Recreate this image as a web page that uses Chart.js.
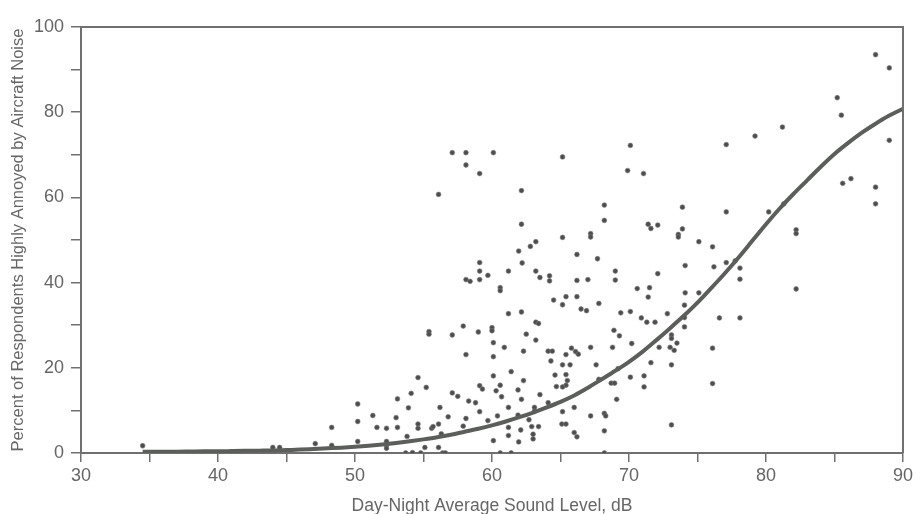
<!DOCTYPE html>
<html>
<head>
<meta charset="utf-8">
<script src="https://cdn.jsdelivr.net/npm/chart.js@4.4.1/dist/chart.umd.min.js"></script>
<style>
  html, body { margin: 0; padding: 0; background: #ffffff; }
  #wrap { width: 916px; height: 514px; position: relative; }
</style>
</head>
<body>
<div id="wrap"><canvas id="c" width="916" height="514"></canvas></div>
<script>
// Survey points: Day-Night Average Sound Level (dB) and % highly annoyed
const surveyLdn = [
  34.5, 44.0, 44.5,
  57.1, 58.1, 60.1, 58.1, 59.1, 56.1, 59.1, 59.1, 59.7, 58.1, 58.4, 59.1,
  65.15, 70.1, 69.9, 71.06, 62.15, 68.2, 68.2, 73.9, 62.15, 71.4, 71.6, 72.1, 73.9, 73.6, 73.6,
  67.2, 67.2, 65.15, 63.2, 62.8, 61.95, 66.2, 62.2, 67.7, 61.2, 63.2, 63.5, 64.2, 64.2, 66.2,
  67.0, 69.0, 69.0, 72.1, 74.1, 60.6, 60.6, 70.6, 71.5, 74.1, 64.5, 65.4, 66.2, 71.4,
  65.15, 67.8, 66.5, 66.9, 61.2, 62.15, 69.4, 70.1, 70.9, 71.3, 71.9, 72.8, 63.2, 63.4,
  60.0, 60.0, 60.1, 62.5, 63.2, 68.9, 69.3, 73.1, 73.1, 73.5,
  60.1, 60.9, 62.3, 64.1, 64.4, 65.4, 65.8, 66.1, 66.3, 67.2, 68.8, 70.2, 73.0, 73.3, 72.2,
  64.3, 65.15, 65.7, 67.6, 69.2, 71.6, 73.1, 61.4, 60.1, 62.3, 60.6, 60.3, 61.9,
  64.6, 65.4, 65.5, 65.4, 65.15, 64.7, 63.5, 62.15, 60.7, 67.8, 68.7, 68.95, 69.1, 70.1, 71.1, 71.1,
  61.2, 63.1, 63.1, 64.1, 65.15, 66.0, 67.2, 68.2, 68.3, 62.7, 62.9, 63.4, 65.1, 65.4, 61.2, 62.1,
  60.1, 61.2, 61.95, 63.0, 63.0, 66.0, 66.2, 68.2, 73.1, 60.6, 61.4, 68.2, 61.9,
  57.9, 55.4, 55.4, 57.1, 59.0, 58.1, 54.6, 55.2, 59.1, 59.3, 53.1, 54.1, 57.1, 57.5, 58.3, 58.8,
  50.2, 53.9, 56.2, 59.1, 60.4, 51.3, 50.2, 53.0, 56.8, 58.1, 59.7, 48.3, 51.6, 52.3, 53.1,
  54.6, 54.6, 55.6, 55.7, 56.1, 57.9, 56.3, 53.8, 47.1, 48.3, 50.2, 52.3, 52.3, 52.3, 55.1, 56.1,
  53.7, 54.2, 54.8, 56.4, 56.6,
  88.0, 89.0, 85.2, 85.5, 81.2, 79.2, 77.1, 89.0, 85.6, 86.2, 88.0, 88.0, 77.1, 80.2, 81.3,
  82.2, 82.2, 75.1, 76.1, 76.2, 77.1, 77.75, 78.1, 78.1,
  75.1, 74.05, 74.05, 74.05, 76.6, 78.1, 82.2, 76.1, 76.1
];
const surveyAnnoyed = [
  1.7, 1.3, 1.3,
  70.5, 70.5, 70.5, 67.6, 65.6, 60.7, 44.7, 42.7, 41.7, 40.7, 40.3, 40.7,
  69.5, 72.2, 66.3, 65.6, 61.6, 58.2, 54.6, 57.7, 53.7, 53.7, 52.7, 53.5, 52.6, 51.3, 50.7,
  51.5, 50.7, 50.6, 49.6, 48.5, 47.4, 46.6, 44.6, 45.6, 42.7, 42.7, 41.2, 41.6, 40.4, 40.5,
  40.7, 42.7, 40.6, 42.1, 44.0, 38.8, 38.1, 38.6, 38.8, 37.6, 35.9, 36.7, 36.7, 36.6,
  34.8, 35.1, 33.8, 33.4, 32.7, 33.1, 32.9, 33.2, 31.7, 30.7, 30.7, 32.7, 30.7, 30.4,
  29.4, 28.7, 25.9, 27.9, 26.5, 28.8, 27.5, 27.7, 26.9, 25.8,
  22.6, 24.8, 23.9, 23.9, 23.9, 23.1, 24.6, 23.8, 23.2, 24.8, 24.8, 25.7, 24.8, 24.1, 24.8,
  21.6, 20.7, 20.7, 20.7, 19.8, 21.2, 20.7, 19.1, 18.1, 17.0, 15.9, 14.6, 14.8,
  18.3, 18.4, 17.0, 15.9, 15.5, 15.6, 13.7, 12.6, 13.2, 17.3, 16.4, 16.4, 12.6, 17.8, 15.5, 18.1,
  10.7, 10.7, 9.8, 11.8, 9.7, 10.7, 8.7, 9.3, 8.7, 7.8, 6.2, 6.2, 6.8, 6.8, 6.0, 5.4,
  2.9, 4.1, 2.6, 4.4, 3.3, 4.8, 3.8, 5.2, 6.6, 0.0, 0.0, 0.0, 8.9,
  29.8, 28.5, 27.9, 27.7, 28.4, 23.1, 17.7, 15.4, 15.8, 15.0, 12.7, 14.0, 14.1, 13.3, 12.2, 11.8,
  11.5, 10.6, 10.7, 9.7, 8.7, 8.8, 7.4, 8.3, 8.5, 8.1, 7.6, 6.0, 6.0, 5.8, 6.0,
  6.8, 5.8, 5.8, 6.2, 6.8, 6.3, 4.5, 3.9, 2.2, 1.8, 2.7, 2.7, 1.8, 1.1, 1.3, 1.3,
  0.0, 0.1, 0.0, 0.0, 0.0,
  93.5, 90.4, 83.4, 79.3, 76.5, 74.4, 72.4, 73.4, 63.3, 64.4, 62.4, 58.5, 56.6, 56.6, 58.5,
  52.4, 51.5, 49.6, 48.4, 43.7, 44.7, 45.1, 43.4, 40.8,
  37.6, 34.7, 31.8, 29.6, 31.7, 31.7, 38.5, 24.6, 16.3
];

// Fitted dose-response curve
const curveLdn = [34.5, 35, 36, 37, 38, 39, 40, 41, 42, 43, 44, 45, 46, 47, 48, 49, 50, 51, 52, 53, 54, 55,
  56, 57, 58, 59, 60, 61, 62, 63, 64, 65, 66, 67, 68, 69, 70, 71, 72, 73, 74, 75, 76, 77, 78, 79, 80,
  81, 82, 83, 84, 85, 86, 87, 88, 89, 90];
const curveAnnoyed = [0.3, 0.3, 0.3, 0.3, 0.35, 0.4, 0.4, 0.45, 0.5, 0.55, 0.6, 0.7, 0.8, 0.95, 1.1, 1.25, 1.45, 1.7, 2.0, 2.35, 2.75, 3.2,
  3.7, 4.3, 5.0, 5.7, 6.5, 7.4, 8.4, 9.5, 10.7, 12.0, 13.5, 15.3, 17.3, 19.3, 21.4, 23.8, 26.5, 29.3, 32.2, 35.3, 38.7, 42.2, 45.9, 49.8, 53.7,
  57.4, 60.8, 64.0, 67.2, 70.2, 72.8, 75.2, 77.3, 79.2, 80.8];

const xTickLabels = ['30', '40', '50', '60', '70', '80', '90'];
const yTickLabels = ['0', '20', '40', '60', '80', '100'];

const axisColor = '#707070';
const textColor = '#666666';
const fontFamily = 'Liberation Sans, Arial, sans-serif';

const framePlugin = {
  id: 'frame',
  afterDatasetsDraw(chart) {
    const {ctx, chartArea: a} = chart;
    ctx.save();
    ctx.strokeStyle = axisColor;
    ctx.lineWidth = 2;
    ctx.beginPath();
    ctx.moveTo(a.left, a.top);
    ctx.lineTo(a.right, a.top);
    ctx.lineTo(a.right, a.bottom);
    ctx.stroke();
    ctx.restore();
  }
};

const points = surveyLdn.map((x, i) => ({x: x, y: surveyAnnoyed[i]}));
const curve = curveLdn.map((x, i) => ({x: x, y: curveAnnoyed[i]}));

new Chart(document.getElementById('c'), {
  type: 'scatter',
  data: {
    datasets: [
      {
        label: 'Fitted curve',
        data: curve,
        showLine: true,
        borderColor: '#5c5e5c',
        borderWidth: 4,
        pointRadius: 0,
        tension: 0.4,
        cubicInterpolationMode: 'monotone',
        order: 0
      },
      {
        label: 'Surveys',
        data: points,
        pointRadius: 2.4,
        pointBackgroundColor: '#4e4e4e',
        pointBorderColor: '#7a7a7a',
        pointBorderWidth: 0.6,
        order: 1
      }
    ]
  },
  options: {
    responsive: false,
    animation: false,
    layout: { padding: { top: 27, right: 10, left: 0, bottom: 0 } },
    plugins: { legend: { display: false }, tooltip: { enabled: false } },
    scales: {
      x: {
        type: 'linear',
        min: 30, max: 90,
        border: { display: true, color: axisColor, width: 2 },
        grid: { display: true, drawOnChartArea: false, drawTicks: true, tickLength: 9, color: axisColor, lineWidth: 1.5 },
        ticks: {
          stepSize: 5,
          color: textColor,
          font: { family: fontFamily, size: 18 },
          padding: 3,
          maxRotation: 0,
          callback: (v) => xTickLabels.includes(String(v)) ? String(v) : ''
        },
        title: {
          display: true,
          text: 'Day-Night Average Sound Level, dB',
          color: textColor,
          font: { family: fontFamily, size: 17.5, lineHeight: 0.9 },
          padding: { top: 0, bottom: 0 }
        },
        afterFit: (s) => { s.height = 61; }
      },
      y: {
        type: 'linear',
        min: 0, max: 100,
        border: { display: true, color: axisColor, width: 2 },
        grid: { display: true, drawOnChartArea: false, drawTicks: true, tickLength: 10, color: axisColor, lineWidth: 1.5 },
        ticks: {
          stepSize: 10,
          color: textColor,
          font: { family: fontFamily, size: 18 },
          padding: 7,
          callback: (v) => yTickLabels.includes(String(v)) ? String(v) : ''
        },
        title: {
          display: true,
          text: 'Percent of Respondents Highly Annoyed by Aircraft Noise',
          color: textColor,
          font: { family: fontFamily, size: 16.5 },
          padding: { top: 9, bottom: 0 }
        },
        afterFit: (s) => { s.width = 81; }
      }
    }
  },
  plugins: [framePlugin]
});
</script>
</body>
</html>
